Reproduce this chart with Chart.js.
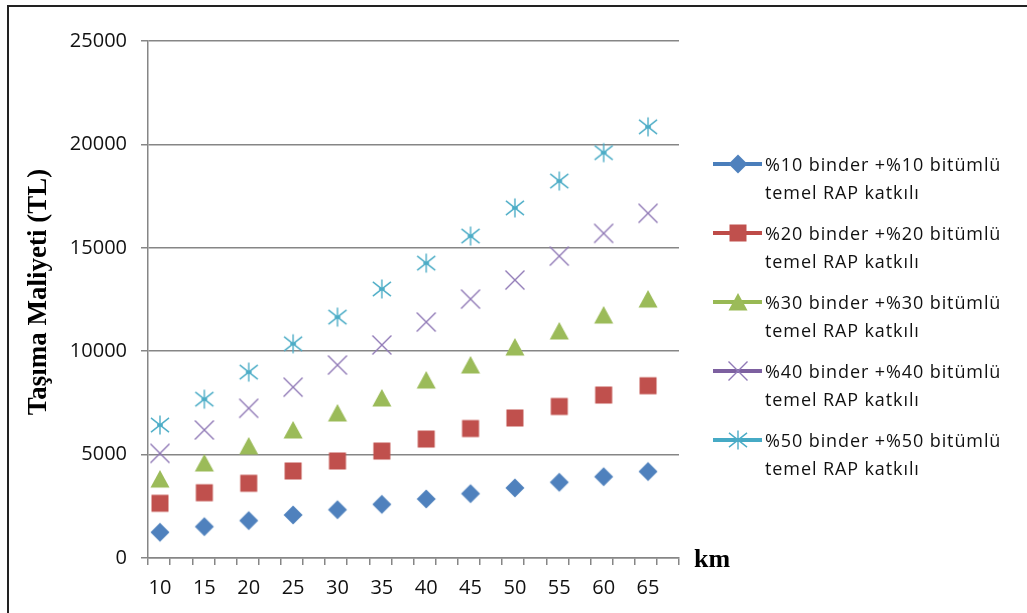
<!DOCTYPE html>
<html>
<head>
<meta charset="utf-8">
<script src="https://cdn.jsdelivr.net/npm/chart.js@4/dist/chart.umd.min.js"></script>
<style>
  html, body { margin: 0; padding: 0; background: #fff; overflow: hidden; }
  #wrap { position: relative; width: 1027px; height: 613px; }
</style>
</head>
<body>
<div id="wrap"><canvas id="c" width="1027" height="613"></canvas></div>
<script>
// Distance categories (km)
const kmValues = [10, 15, 20, 25, 30, 35, 40, 45, 50, 55, 60, 65];

// Transport cost (TL) per mix
const cost10 = [1245, 1515, 1810, 2080, 2335, 2595, 2855, 3110, 3390, 3660, 3930, 4180];
const cost20 = [2645, 3158, 3612, 4207, 4691, 5174, 5754, 6262, 6770, 7326, 7882, 8332];
const cost30 = [3820, 4594, 5416, 6190, 7012, 7737, 8607, 9333, 10203, 10977, 11750, 12524];
const cost40 = [5060, 6190, 7240, 8260, 9330, 10300, 11410, 12520, 13440, 14600, 15700, 16670];
const cost50 = [6430, 7680, 8990, 10360, 11650, 13010, 14260, 15570, 16930, 18230, 19600, 20850];

const seriesNames = [
  ['%10 binder +%10 bitümlü', 'temel RAP katkılı'],
  ['%20 binder +%20 bitümlü', 'temel RAP katkılı'],
  ['%30 binder +%30 bitümlü', 'temel RAP katkılı'],
  ['%40 binder +%40 bitümlü', 'temel RAP katkılı'],
  ['%50 binder +%50 bitümlü', 'temel RAP katkılı']
];

// Y axis tick values
const yTickValues = [0, 5000, 10000, 15000, 20000, 25000];

const yAxisTitle = 'Taşıma Maliyeti (TL)';
const xAxisTitle = 'km';

// x range of the plot (axis runs a little past the first and last distances)
const X_MIN = 8.65;
const X_MAX = 68.49;

const GRID = '#868686';
const TEXT = '#111';

// Marker images
function makeMarker(kind, color) {
  const c = document.createElement('canvas');
  c.width = 26; c.height = 26;
  const g = c.getContext('2d');
  const m = 13;
  g.fillStyle = color; g.strokeStyle = color;
  g.beginPath();
  if (kind === 'diamond') {
    const r = 9.5;
    g.moveTo(m, m - r); g.lineTo(m + r, m); g.lineTo(m, m + r); g.lineTo(m - r, m); g.closePath(); g.fill();
  } else if (kind === 'square') {
    g.rect(m - 8.5, m - 8.5, 17, 17); g.fill();
  } else if (kind === 'triangle') {
    g.moveTo(m, m - 9); g.lineTo(m + 9.5, m + 8.5); g.lineTo(m - 9.5, m + 8.5); g.closePath(); g.fill();
  } else if (kind === 'cross') {
    const r = 9.5;
    g.lineWidth = 1.4;
    g.moveTo(m - r, m - r); g.lineTo(m + r, m + r);
    g.moveTo(m + r, m - r); g.lineTo(m - r, m + r);
    g.stroke();
  } else if (kind === 'star') {
    const r = 9.5;
    g.lineWidth = 1.4;
    g.moveTo(m, m - r); g.lineTo(m, m + r);
    g.moveTo(m - r * 0.95, m - r * 0.75); g.lineTo(m + r * 0.95, m + r * 0.75);
    g.moveTo(m + r * 0.95, m - r * 0.75); g.lineTo(m - r * 0.95, m + r * 0.75);
    g.moveTo(m - 3, m); g.lineTo(m + 3, m);
    g.stroke();
  }
  return c;
}

const seriesStyles = [
  { values: cost10, kind: 'diamond',  marker: '#4F81BD', line: '#4A7EBB' },
  { values: cost20, kind: 'square',   marker: '#C0504D', line: '#BE4B48' },
  { values: cost30, kind: 'triangle', marker: '#9BBB59', line: '#98B954' },
  { values: cost40, kind: 'cross',    marker: '#9079B6', line: '#7D60A0' },
  { values: cost50, kind: 'star',     marker: '#4BACC6', line: '#46AAC5' }
];

const datasets = seriesStyles.map((s, i) => ({
  label: seriesNames[i].join(' '),
  data: kmValues.map((k, j) => ({ x: k, y: s.values[j] })),
  showLine: false,
  pointStyle: makeMarker(s.kind, s.marker),
  pointRadius: 10,
  pointHoverRadius: 10,
  backgroundColor: s.marker,
  borderColor: s.line
}));

// Frame, axis titles and legend
const decorations = {
  id: 'decorations',
  beforeDraw(chart) {
    const ctx = chart.ctx;
    ctx.save();
    ctx.fillStyle = '#fff';
    ctx.fillRect(0, 0, chart.width, chart.height);
    ctx.restore();
  },
  afterDraw(chart) {
    const ctx = chart.ctx;
    ctx.save();
    // outer frame
    ctx.strokeStyle = '#222';
    ctx.lineWidth = 2;
    ctx.beginPath();
    ctx.moveTo(8, chart.height);
    ctx.lineTo(8, 6);
    ctx.lineTo(chart.width, 6);
    ctx.stroke();

    // y axis title
    ctx.fillStyle = '#000';
    ctx.font = 'bold 27px "Liberation Serif", "Times New Roman", serif';
    ctx.textAlign = 'center';
    ctx.textBaseline = 'middle';
    ctx.translate(39, 292);
    ctx.rotate(-Math.PI / 2);
    ctx.fillText(yAxisTitle, 0, 0);
    ctx.setTransform(1, 0, 0, 1, 0, 0);

    // x axis title
    ctx.font = 'bold 26px "Liberation Serif", "Times New Roman", serif';
    ctx.textAlign = 'left';
    ctx.textBaseline = 'alphabetic';
    ctx.fillText(xAxisTitle, 694, 567);

    // legend
    ctx.font = '18px "Open Sans", "Noto Sans", sans-serif';
    ctx.fillStyle = TEXT;
    if ('letterSpacing' in ctx) ctx.letterSpacing = '0.9px';
    chart.data.datasets.forEach((ds, i) => {
      const y = 164 + i * 69;
      ctx.strokeStyle = ds.borderColor;
      ctx.lineWidth = 4;
      ctx.lineCap = 'butt';
      ctx.beginPath();
      ctx.moveTo(713, y);
      ctx.lineTo(762, y);
      ctx.stroke();
      const img = ds.pointStyle;
      ctx.drawImage(img, 738 - img.width / 2, y - img.height / 2);
      ctx.fillText(seriesNames[i][0], 765, y + 7);
      ctx.fillText(seriesNames[i][1], 765, y + 35);
    });
    ctx.restore();
  }
};

new Chart(document.getElementById('c'), {
  type: 'scatter',
  data: { datasets },
  options: {
    responsive: false,
    animation: false,
    devicePixelRatio: 1,
    layout: { padding: { left: 0, top: 41, right: 348, bottom: 0 } },
    plugins: { legend: { display: false }, tooltip: { enabled: false } },
    scales: {
      x: {
        type: 'linear',
        min: X_MIN,
        max: X_MAX,
        afterBuildTicks(scale) {
          const ticks = [];
          for (let k = 0; k <= 24; k++) {
            ticks.push({ value: X_MIN + k * (X_MAX - X_MIN) / 24, isLabel: false });
          }
          kmValues.forEach(v => ticks.push({ value: v, isLabel: true }));
          ticks.sort((a, b) => a.value - b.value);
          scale.ticks = ticks;
        },
        afterFit(scale) { scale.height = 55; },
        border: { color: GRID, width: 1.5 },
        grid: {
          drawOnChartArea: false,
          drawTicks: true,
          tickLength: 7,
          lineWidth: 1.5,
          color: (ctx) => (ctx.tick && ctx.tick.isLabel) ? 'rgba(0,0,0,0)' : GRID
        },
        ticks: {
          autoSkip: false,
          maxRotation: 0,
          padding: 11,
          color: TEXT,
          font: { family: '"Open Sans", "Noto Sans", sans-serif', size: 20 },
          callback: (value, index, ticks) => ticks[index].isLabel ? String(value) : ''
        }
      },
      y: {
        min: 0,
        max: 25000,
        afterBuildTicks(scale) {
          scale.ticks = yTickValues.map(v => ({ value: v }));
        },
        afterFit(scale) { scale.width = 148; },
        border: { color: GRID, width: 1.5 },
        grid: { color: GRID, lineWidth: 1.5, drawTicks: true, tickLength: 7 },
        ticks: {
          padding: 14,
          color: TEXT,
          font: { family: '"Open Sans", "Noto Sans", sans-serif', size: 20 },
          callback: (value) => String(value)
        }
      }
    }
  },
  plugins: [decorations]
});
</script>
</body>
</html>
